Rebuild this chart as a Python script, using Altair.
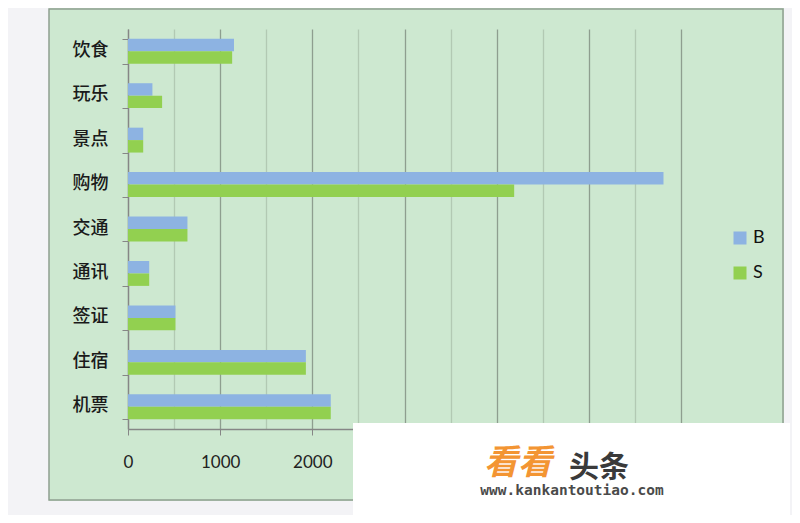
import altair as alt
import pandas as pd

categories = ["饮食", "玩乐", "景点", "购物", "交通", "通讯", "签证", "住宿", "机票"]
b_values = [1150, 265, 165, 5810, 645, 230, 515, 1930, 2200]
s_values = [1130, 370, 165, 4190, 645, 230, 515, 1930, 2200]
series = ["B", "S"]
colors = ["#8db3e2", "#92d050"]
x_ticks = list(range(0, 6001, 500))

rows = []
for c, b, s in zip(categories, b_values, s_values):
    rows.append({"cat": c, "series": "B", "value": b})
    rows.append({"cat": c, "series": "S", "value": s})
df = pd.DataFrame(rows)

PANEL = "#cde8d0"
OUTSIDE = "#f3f3f6"

bars = alt.Chart(df).mark_bar().encode(
    x=alt.X(
        "value:Q",
        scale=alt.Scale(domain=[0, 6000], nice=False),
        axis=alt.Axis(
            values=x_ticks,
            title=None,
            grid=True,
            gridColor={"condition": {"test": "datum.value % 1000 === 0", "value": "#8e9e8f"}, "value": "#b2c9b3"},
            gridWidth=1.3,
            labelExpr="datum.value % 1000 === 0 && datum.value <= 2000 ? datum.label : ''",
            labelFlush=False,
            format="d",
            tickColor={"condition": {"test": "datum.value % 1000 === 0", "value": "#868686"}, "value": "transparent"},
            tickSize=6,
            labelPadding=19,
            labelFont="Lato",
            labelFontSize=17,
            labelColor="#222222",
            domainColor="#868686",
            domainWidth=1.3,
        ),
    ),
    y=alt.Y(
        "cat:N",
        sort=categories,
        scale=alt.Scale(paddingInner=0.44, paddingOuter=0.22),
        axis=alt.Axis(
            title=None,
            tickBand="extent",
            tickSize=6,
            tickColor="#868686",
            domainColor="#868686",
            domainWidth=1.3,
            labelPadding=14,
            labelFont="Noto Sans CJK SC",
            labelFontSize=18,
            labelFontWeight=500,
            labelColor="#1a1a1a",
            labelOffset=-1,
        ),
    ),
    yOffset=alt.YOffset("series:N", sort=series, scale=alt.Scale(paddingInner=0, paddingOuter=0)),
    color=alt.Color(
        "series:N",
        scale=alt.Scale(domain=series, range=colors),
        legend=alt.Legend(
            title=None,
            orient="none",
            legendX=603,
            legendY=200,
            symbolType="square",
            symbolSize=169,
            symbolStrokeWidth=0,
            labelFont="Lato",
            labelFontSize=18,
            labelColor="#111111",
            rowPadding=17,
            labelOffset=4,
        ),
    ),
)


def box(x, x2, y, y2, **kw):
    return alt.Chart(alt.Data(values=[{}])).mark_rect(**kw).encode(
        x=alt.value(x), x2=alt.value(x2), y=alt.value(y), y2=alt.value(y2)
    )


def label(text, x, y, **kw):
    return alt.Chart(alt.Data(values=[{}])).mark_text(text=text, **kw).encode(
        x=alt.value(x), y=alt.value(y)
    )


left_strip = box(-120, -79, -21, 486, color=OUTSIDE)
right_strip = box(656, 664, -21, 486, color=OUTSIDE)
bottom_strip = box(-120, 664, 472, 486, color=OUTSIDE)
border = box(-79, 655, -20, 471, fill=None, stroke="#8f9f90", strokeWidth=1.5)
wm_box = box(225, 662, 394, 490, color="#ffffff")
wm1 = label("看看", 390, 435, font="Noto Sans CJK SC", fontSize=34, fontWeight="bold",
            fontStyle="italic", color="#f39533", align="center", baseline="middle")
wm2 = label("头条", 471, 439, font="Noto Sans CJK SC", fontSize=30, fontWeight="bold",
            color="#3a3a3a", align="center", baseline="middle")
wm3 = label("www.kankantoutiao.com", 444, 462, font="DejaVu Sans Mono", fontSize=14.5,
            fontWeight="bold", color="#4a4a4a", align="center", baseline="middle")

chart = alt.layer(
    bars, left_strip, right_strip, bottom_strip, border, wm_box, wm1, wm2, wm3
).properties(
    width=553,
    height=400,
    autosize="none",
    padding={"left": 120, "top": 21, "right": 111, "bottom": 86},
).configure(background=PANEL).configure_view(stroke=None)

chart.save("out.html", embed_options={"renderer": "svg", "actions": False})
